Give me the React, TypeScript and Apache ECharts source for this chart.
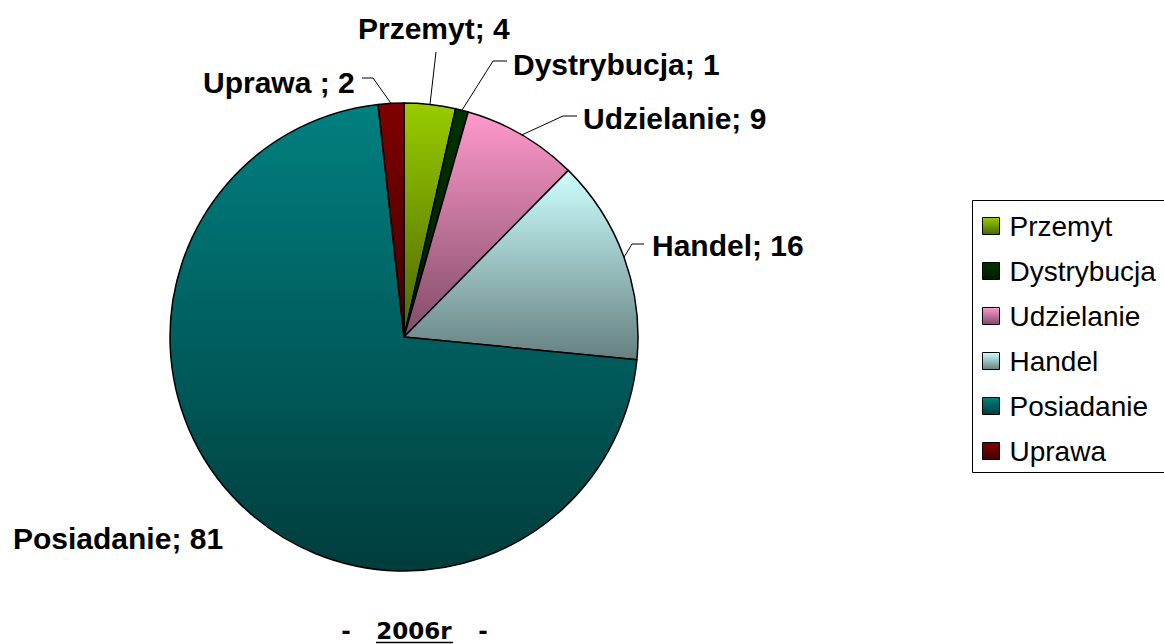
import React, { useEffect, useRef } from "react";
import * as echarts from "echarts";

// ---- data ----
const categories = ["Przemyt", "Dystrybucja", "Udzielanie", "Handel", "Posiadanie", "Uprawa"];
const values = [4, 1, 9, 16, 81, 2];
const labelNames = ["Przemyt", "Dystrybucja", "Udzielanie", "Handel", "Posiadanie", "Uprawa "];
const topColors = ["#99CC00", "#003300", "#FF99CC", "#CCFFFF", "#008080", "#800000"];
const bottomColors = ["#4C6600", "#001A00", "#7F4C66", "#668080", "#003D3D", "#400000"];
const titleParts = ["-", "2006r", "-"];

// label placement (left x, middle y) and elbow points of leader lines
const labelPlacement = [
  { x: 358, y: 28, line: [[436, 52]] },
  { x: 513, y: 64, line: [[493, 61], [507, 61]] },
  { x: 583, y: 118, line: [[563, 116], [577, 116]] },
  { x: 652, y: 245, line: [[632, 244], [644, 244]] },
  { x: 13, y: 538, line: null },
  { x: 203, y: 82, line: [[373, 78], [362, 78]] },
];

const grad = (a: string, b: string) => ({
  type: "linear",
  x: 0,
  y: 0,
  x2: 0,
  y2: 1,
  colorStops: [
    { offset: 0, color: a },
    { offset: 1, color: b },
  ],
});

export default function App() {
  const ref = useRef<HTMLDivElement>(null);
  useEffect(() => {
    if (!ref.current) return;
    const chart = echarts.init(ref.current, null, { renderer: "svg" });
    const data = categories.map((name, i) => ({
      name,
      value: values[i],
      itemStyle: { color: grad(topColors[i], bottomColors[i]) },
      labelLine: { show: labelPlacement[i].line !== null },
    }));
    const titleStyle = (t: string) => ({
      text: t,
      font: "bold 23px 'DejaVu Sans'",
      fill: "#000",
      align: "center",
      verticalAlign: "middle",
    });
    chart.setOption({
      animation: false,
      backgroundColor: "#ffffff",
      legend: {
        orient: "vertical",
        left: 982,
        top: 212,
        padding: 0,
        itemWidth: 17,
        itemHeight: 17,
        itemGap: 17,
        icon: "rect",
        itemStyle: { borderColor: "#000", borderWidth: 1 },
        textStyle: {
          fontFamily: "Liberation Sans, Arial, sans-serif",
          fontSize: 28,
          color: "#000",
          padding: [0, 0, 0, 5],
        },
        data: categories,
      },
      graphic: [
        {
          type: "rect",
          shape: { x: 972.5, y: 200.5, width: 230, height: 272 },
          style: { fill: "none", stroke: "#000", lineWidth: 1 },
          silent: true,
        },
        { type: "text", x: 346, y: 631, style: titleStyle(titleParts[0]) },
        { type: "text", x: 414, y: 631, style: titleStyle(titleParts[1]) },
        {
          type: "line",
          shape: { x1: 376, y1: 642.5, x2: 453, y2: 642.5 },
          style: { stroke: "#000", lineWidth: 1.5 },
        },
        { type: "text", x: 483, y: 631, style: titleStyle(titleParts[2]) },
      ],
      series: [
        {
          type: "pie",
          center: [404, 337],
          radius: 234,
          startAngle: 90,
          clockwise: true,
          avoidLabelOverlap: false,
          itemStyle: { borderColor: "#000", borderWidth: 1.5 },
          label: {
            show: true,
            position: "outside",
            formatter: (p: any) => labelNames[p.dataIndex] + "; " + p.value,
            fontFamily: "Liberation Sans, Arial, sans-serif",
            fontWeight: "bold",
            fontSize: 30,
            color: "#000",
          },
          labelLine: {
            show: true,
            length: 20,
            length2: 10,
            lineStyle: { color: "#000", width: 1 },
          },
          labelLayout: (params: any) => {
            const lp = labelPlacement[params.dataIndex];
            const out: any = {
              x: lp.x,
              y: lp.y,
              align: "left",
              verticalAlign: "middle",
            };
            if (lp.line && params.labelLinePoints) {
              const pts = [params.labelLinePoints[0], ...lp.line];
              if (pts.length === 2) pts.push(lp.line[lp.line.length - 1]);
              out.labelLinePoints = pts;
            }
            return out;
          },
          emphasis: { disabled: true },
          data,
        },
      ],
    });
    return () => chart.dispose();
  }, []);
  return (
    <div
      ref={ref}
      style={{ position: "fixed", left: 0, top: 0, width: 1164, height: 644 }}
    />
  );
}
